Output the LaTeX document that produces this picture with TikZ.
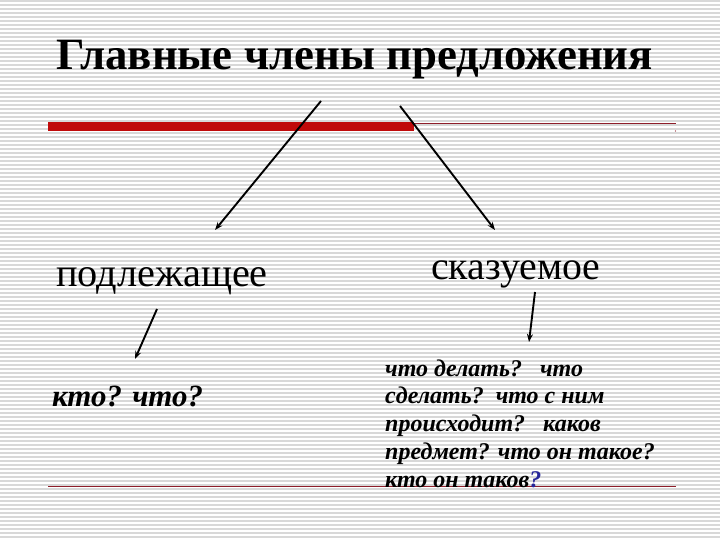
\documentclass[tikz,border=0pt]{standalone}
\usepackage{fontspec}
\setmainfont{Liberation Serif}
\usetikzlibrary{arrows.meta}
\definecolor{stripegray}{HTML}{D8D8D8}
\definecolor{barred}{HTML}{C00A0A}
\definecolor{thinred}{HTML}{8E1E2A}
\definecolor{qblue}{HTML}{26269A}
\tikzset{
  conn/.style={draw=black, line width=1.9pt, -{Stealth[length=8pt,width=6pt]}},
  qtext/.style={anchor=base west, inner sep=0pt, font=\fontsize{24}{28}\selectfont\bfseries\itshape},
}
\begin{document}
\begin{tikzpicture}[x=1pt,y=-1pt]
\useasboundingbox (0,0) rectangle (720,540);
\fill[white] (0,0) rectangle (720,540);
\foreach \yy in {0,4,...,536} {
  \fill[stripegray] (0,\yy) rectangle (720,\yy+2.4);
}
% bars
\fill[barred] (48,122) rectangle (414,131.5);
\draw[thinred, line width=1pt] (414,123.3) -- (676,123.3);
\fill[thinred] (675.5,131) circle (0.6);
\draw[thinred, line width=1pt] (48,486) -- (676,486);
% texts
\node[anchor=base, inner sep=0pt, font=\fontsize{44.8}{52}\selectfont\bfseries] (title) at (355,70) {Главные члены предложения};
\node[anchor=base west, inner sep=0pt, font=\fontsize{40.3}{46}\selectfont] (subj) at (56,286) {подлежащее};
\node[anchor=base west, inner sep=0pt, font=\fontsize{39.8}{46}\selectfont] (pred) at (431,279) {сказуемое};
\node[anchor=base west, inner sep=0pt, font=\fontsize{30.9}{36}\selectfont\bfseries\itshape] (subjq) at (52,406) {кто? что?};
\node[qtext] (q1) at (385,376) {что делать?\ \ \ что};
\node[qtext] (q2) at (385,403) {сделать?\ \ что с ним};
\node[qtext] (q3) at (385,431) {происходит?\ \ \ каков};
\node[qtext] (q4) at (385,459) {предмет? что он такое?};
\node[qtext] (q5) at (385,487) {кто он таков\textcolor{qblue}{?}};
% connectors
\coordinate (a1s) at (321,101);
\coordinate (a1e) at (215,230);
\coordinate (a2s) at (400,106);
\coordinate (a2e) at (495,230);
\coordinate (a3s) at (157,309);
\coordinate (a3e) at (135,359);
\coordinate (a4s) at (535,292);
\coordinate (a4e) at (529,342);
\draw[conn] (a1s) -- (a1e);
\draw[conn] (a2s) -- (a2e);
\draw[conn] (a3s) -- (a3e);
\draw[conn] (a4s) -- (a4e);
\end{tikzpicture}
\end{document}
